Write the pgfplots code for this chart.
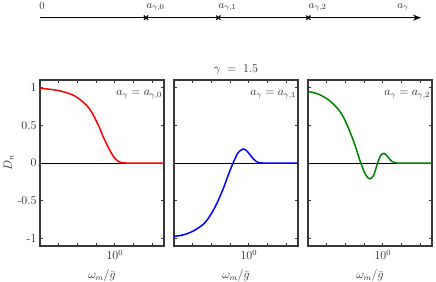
\documentclass[border=0pt]{standalone}
\usepackage{pgfplots}
\pgfplotsset{compat=1.18}
\usetikzlibrary{arrows.meta}
\definecolor{frame}{gray}{0.22}
\definecolor{txt}{gray}{0.15}
\definecolor{mgreen}{rgb}{0,0.5,0}
\pgfplotsset{
  panel/.style={
    scale only axis, width=124pt, height=166pt,
    xmin=-0.8, xmax=0.526, ymin=-1.1, ymax=1.1,
    xtick={0}, xticklabels={$10^0$},
    minor xtick={-0.6,-0.4,-0.2,0.2,0.4},
    ytick={-1,-0.5,0,0.5,1},
    tick align=inside, xtick pos=both, ytick pos=both,
    xticklabel pos=lower, yticklabel pos=left,
    major tick length=3pt, minor tick length=3pt,
    axis line style={frame, line width=1.6pt},
    tick style={frame, line width=0.8pt},
    ticklabel style={font=\fontsize{12}{14}\selectfont, text=txt},
    xticklabel style={inner sep=1pt, yshift=-3pt},
    xlabel={$\omega_m/\bar{g}$},
    xlabel style={font=\fontsize{12}{14}\selectfont, text=txt, inner sep=1pt, yshift=-8pt},
    anchor=south west, clip=false,
  },
  curve/.style={line width=1.5pt, smooth},
}
\newcommand{\annot}[1]{\node[anchor=east, inner sep=0pt, text=txt, font=\fontsize{12}{14}\selectfont] at (rel axis cs:0.985,0.91) {#1};}
\begin{document}
\begin{tikzpicture}
\useasboundingbox (0pt,0pt) rectangle (436pt,281pt);
% Panel 1
\begin{axis}[panel, at={(40pt,35pt)}, yticklabels={-1,-0.5,0,0.5,1},
  ylabel={$D_n$}, ylabel style={font=\fontsize{12}{14}\selectfont, text=txt, yshift=-3pt}]
\addplot[black, line width=0.6pt] coordinates {(-0.8,0)(0.526,0)};
\addplot[red, curve] coordinates {
(-0.8,0.991)(-0.7,0.978)(-0.589,0.956)(-0.449,0.902)(-0.344,0.813)(-0.274,0.724)
(-0.221,0.613)(-0.168,0.48)(-0.116,0.324)(-0.063,0.191)(-0.011,0.08)(0.042,0.018)
(0.095,0.001)(0.15,0)(0.25,0)(0.4,0)(0.526,0)};
\annot{$a_\gamma = a_{\gamma,0}$}
\end{axis}
% Panel 2
\begin{axis}[panel, at={(174pt,35pt)}, yticklabels={}]
\addplot[black, line width=0.6pt] coordinates {(-0.8,0)(0.526,0)};
\addplot[blue, curve] coordinates {
(-0.8,-0.973)(-0.695,-0.951)(-0.589,-0.898)(-0.484,-0.809)(-0.414,-0.698)
(-0.344,-0.542)(-0.274,-0.342)(-0.221,-0.164)(-0.168,0)(-0.116,0.133)
(-0.063,0.185)(-0.021,0.16)(0.025,0.089)(0.077,0.022)(0.130,0.001)(0.2,0)(0.35,0)(0.526,0)};
\annot{$a_\gamma = a_{\gamma,1}$}
\node[anchor=south, text=txt, font=\fontsize{12}{14}\selectfont, inner sep=0pt] at (rel axis cs:0.5,1.03) {$\gamma\;=\;1.5$};
\end{axis}
% Panel 3
\begin{axis}[panel, at={(308pt,35pt)}, yticklabels={}]
\addplot[black, line width=0.6pt] coordinates {(-0.8,0)(0.526,0)};
\addplot[mgreen, curve] coordinates {
(-0.8,0.947)(-0.695,0.916)(-0.589,0.844)(-0.484,0.724)(-0.414,0.591)
(-0.344,0.391)(-0.291,0.213)(-0.239,0.013)(-0.186,-0.151)(-0.140,-0.21)
(-0.098,-0.164)(-0.056,0)(-0.021,0.102)(0.014,0.127)(0.049,0.089)(0.095,0.022)
(0.140,0.001)(0.2,0)(0.35,0)(0.526,0)};
\annot{$a_\gamma = a_{\gamma,2}$}
\end{axis}
% Timeline
\begin{axis}[scale only axis, width=436pt, height=281pt, at={(0pt,0pt)}, anchor=south west,
  xmin=0, xmax=436, ymin=0, ymax=281, hide axis, clip=false]
\addplot[black, line width=0.7pt, -{Stealth[length=8pt,width=6pt]}] coordinates {(39.5,263.3)(421,263.3)};
\addplot[only marks, mark=x, mark size=3pt, mark options={line width=1.2pt}] coordinates {(146,263.3)(218.3,263.3)(308.3,263.3)};
\node[font=\fontsize{11}{13}\selectfont, text=txt] at (axis cs:42,275) {0};
\node[anchor=west, inner sep=0pt, font=\fontsize{11}{13}\selectfont, text=txt] at (axis cs:146.5,273.5) {$a_{\gamma,0}$};
\node[anchor=west, inner sep=0pt, font=\fontsize{11}{13}\selectfont, text=txt] at (axis cs:218.5,273.5) {$a_{\gamma,1}$};
\node[anchor=west, inner sep=0pt, font=\fontsize{11}{13}\selectfont, text=txt] at (axis cs:308.5,273.5) {$a_{\gamma,2}$};
\node[font=\fontsize{11}{13}\selectfont, text=txt] at (axis cs:403,273.5) {$a_\gamma$};
\end{axis}
\end{tikzpicture}
\end{document}
